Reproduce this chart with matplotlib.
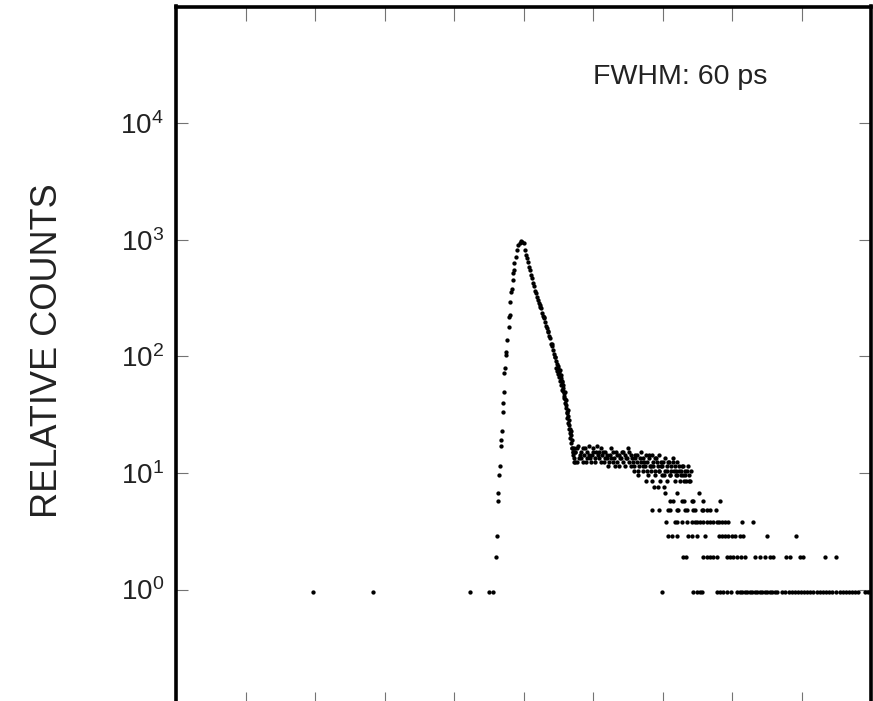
import matplotlib
matplotlib.use('Agg')
import matplotlib.pyplot as plt
import numpy as np
from matplotlib.ticker import FixedLocator, FixedFormatter, NullLocator

plt.rcParams['font.family'] = ['Liberation Sans', 'DejaVu Sans']
plt.rcParams['mathtext.fontset'] = 'custom'
plt.rcParams['mathtext.rm'] = 'Liberation Sans'
plt.rcParams['mathtext.it'] = 'Liberation Sans:italic'
plt.rcParams['mathtext.bf'] = 'Liberation Sans:bold'

# ---------------- data (channels of 1.44 ps, raw counts) ----------------
NORM = 0.953          # relative-count scale factor
N_CHANNELS = 1390
TICK_STEP = 139       # 200 ps

# channels holding a given low count
row1_ch = [274, 394, 588, 626, 634, 972, 1034, 1042, 1048, 1052, 1082, 1088, 1094,
           1102, 1110, 1122, 1127, 1132, 1137, 1142, 1147, 1152, 1157, 1162, 1167,
           1172, 1177, 1182, 1187, 1192, 1197, 1202, 1212, 1218, 1226, 1232, 1238,
           1244, 1250, 1256, 1262, 1268, 1274, 1282, 1288, 1294, 1300, 1306, 1312,
           1320, 1328, 1334, 1340, 1346, 1352, 1358, 1364, 1378, 1384]
row2_ch = [640, 1014, 1020, 1054, 1062, 1068, 1074, 1082, 1102, 1108, 1114, 1122,
           1130, 1138, 1158, 1168, 1178, 1188, 1194, 1220, 1228, 1248, 1254, 1298, 1320]
row3_ch = [642, 984, 992, 1002, 1024, 1032, 1042, 1058, 1086, 1092, 1098, 1104,
           1112, 1118, 1128, 1134, 1182, 1240]
row4_ch = [980, 998, 1002, 1012, 1022, 1032, 1038, 1042, 1048, 1054, 1062, 1068,
           1074, 1082, 1086, 1092, 1098, 1104, 1132, 1154]
row5_ch = [952, 966, 984, 988, 1002, 1004, 1018, 1022, 1034, 1038, 1052, 1054,
           1062, 1068, 1080]
row6_ch = [643, 988, 994, 1012, 1016, 1032, 1034, 1054, 1088]
row7_ch = [644, 978, 1002, 1046]
row8_ch = [956, 964, 976]
row9_ch = [940, 952, 968, 982, 998, 1028]

# rising edge, peak and fast decay
edge_ch = [645, 647, 649, 650, 652, 653, 654, 655, 656, 657, 659, 660, 662, 665,
           666, 667, 668, 670, 671, 673, 674, 675, 676, 679, 681, 684, 687, 689,
           692, 695, 698, 700, 702, 704, 706, 708, 710, 712, 714, 716, 718, 720,
           722, 724, 726, 727, 728, 730, 732, 734, 735, 736, 738, 740, 742, 743,
           744, 746, 748, 750, 751, 752, 754, 756, 757, 758, 760, 762, 763, 764,
           766, 767, 768, 769, 770, 771, 772, 773, 774, 775, 776, 777, 778, 779,
           780, 781, 782, 783, 784, 785, 786, 787, 788, 789, 790, 791, 792, 793,
           794, 795, 796, 798]
edge_counts = [10, 12, 18, 20, 24, 35, 42, 52, 75, 83, 107, 114, 144, 188,
               229, 236, 307, 375, 400, 472, 549, 574, 660, 747, 853, 941, 985, 1019,
               1005, 974, 853, 772, 728, 673, 610, 574, 520, 491, 445, 419, 379, 365,
               337, 318, 299, 290, 277, 272, 246, 232, 226, 222, 206, 190, 183, 174,
               169, 156, 150, 135, 133, 128, 119, 109, 104, 103, 95, 90, 86, 83,
               77, 72, 80, 68, 72, 63, 65, 56, 59, 51, 46, 52, 42, 38,
               44, 34, 31, 36, 28, 25, 30, 23, 21, 24, 19, 17, 20, 16,
               15, 17, 13, 16]
# extra scatter on the lower part of the fast decay
decay2_ch = [760, 762, 764, 766, 768, 770, 772, 774, 776, 778, 780, 782, 784, 786,
             788, 790]
decay2_counts = [84, 78, 74, 70, 64, 60, 54, 53, 48, 45, 40, 35, 32, 27, 25, 22]

# slow-component plateau
plateau_ch = [792, 795, 798, 801, 804, 807, 810, 813, 816, 819, 822, 825, 828, 831,
              834, 837, 840, 843, 846, 849, 852, 855, 858, 861, 864, 867, 870, 873,
              876, 879, 882, 885, 888, 891, 894, 897, 900, 903, 906, 909, 912, 915,
              918, 921, 924, 927, 930, 933, 936, 939, 942, 945, 948, 951, 954, 957,
              960, 963, 966, 969, 972, 975, 978, 981, 984, 987, 990, 993, 996, 999,
              1002, 1005, 1008, 1011, 1014, 1017, 1020, 1023, 1026, 1029]
plateau_counts = [17, 14, 16, 13, 18, 15, 14, 17, 15, 13, 16, 18, 14, 15,
                  17, 13, 16, 15, 14, 17, 15, 13, 16, 14, 12, 15, 17, 13,
                  14, 16, 15, 12, 14, 16, 13, 15, 14, 17, 13, 15, 14, 12,
                  15, 13, 11, 14, 16, 12, 13, 15, 11, 14, 12, 15, 13, 11,
                  14, 12, 15, 13, 12, 10, 14, 11, 13, 10, 12, 14, 11, 10,
                  13, 11, 9, 12, 10, 11, 9, 12, 10, 11]
plateau2_ch = [794, 798, 802, 806, 810, 814, 818, 822, 826, 830, 834, 838, 842, 846,
               850, 854, 858, 862, 866, 870, 874, 878, 882, 886, 890, 894, 898, 902,
               906, 910, 914, 918, 922, 926, 930, 934, 938, 942, 946, 950, 954, 958,
               962, 966, 970, 974, 978, 982, 986, 990, 994, 998, 1002, 1006, 1010,
               1014, 1018, 1022, 1026]
plateau2_counts = [16, 13, 17, 14, 16, 13, 17, 14, 15, 13, 16, 14, 18, 16,
                   13, 16, 14, 15, 13, 14, 16, 12, 13, 15, 14, 16, 12, 14,
                   16, 12, 13, 14, 15, 12, 13, 14, 12, 13, 15, 11, 12, 14,
                   13, 11, 12, 13, 11, 12, 13, 11, 13, 12, 10, 12, 11,
                   12, 10, 11, 9]
lower_ch = [916, 924, 934, 944, 950, 958, 966, 972, 988, 1000, 1010, 1016]
lower_counts = [11, 10, 11, 10, 12, 10, 11, 10, 10, 11, 10, 9]

ytick_vals = [1, 10, 100, 1000, 10000]
ytick_labels = [r'$10^{0}$', r'$10^{1}$', r'$10^{2}$', r'$10^{3}$', r'$10^{4}$']
annotation = 'FWHM: 60 ps'
ylabel = 'RELATIVE COUNTS'

# ---------------- assemble ----------------
rows = [row1_ch, row2_ch, row3_ch, row4_ch, row5_ch, row6_ch, row7_ch, row8_ch, row9_ch]
ch_all, cnt_all = [], []
for k, r in enumerate(rows, start=1):
    ch_all += r
    cnt_all += [k] * len(r)
for c, n in [(edge_ch, edge_counts), (decay2_ch, decay2_counts),
             (plateau_ch, plateau_counts), (plateau2_ch, plateau2_counts),
             (lower_ch, lower_counts)]:
    ch_all += c
    cnt_all += n
ch_all = np.array(ch_all, dtype=float)
rel = np.array(cnt_all, dtype=float) * NORM

# ---------------- figure ----------------
W, H = 873, 701
fig = plt.figure(figsize=(W / 100, H / 100), dpi=100)
left, right = 176.3 / W, 871.0 / W
top, bottom = 1 - 6.5 / H, 1 - 706.1 / H
ax = fig.add_axes([left, bottom, right - left, top - bottom])

ax.plot(ch_all, rel, 'o', ms=3.1, mew=0, color='black')

ax.set_yscale('log')
ax.set_ylim(0.1, 1e5)
ax.set_xlim(0, N_CHANNELS)
ax.xaxis.set_major_locator(FixedLocator([TICK_STEP * k for k in range(1, 10)]))
ax.xaxis.set_minor_locator(NullLocator())
ax.yaxis.set_major_locator(FixedLocator(ytick_vals))
ax.yaxis.set_major_formatter(FixedFormatter(ytick_labels))
ax.yaxis.set_minor_locator(NullLocator())

ax.tick_params(axis='x', which='major', direction='in', top=True, bottom=True,
               length=10, width=0.8, color='0.45', labelbottom=False, labeltop=False)
ax.tick_params(axis='y', which='major', direction='in', left=True, right=True,
               length=8.8, width=0.8, color='0.45', labelsize=20, pad=9,
               labelcolor='#222222')
for s in ax.spines.values():
    s.set_linewidth(2.6)
    s.set_color('black')

fig.text(593 / W, 1 - 84 / H, annotation, fontsize=20.5, ha='left', va='baseline',
         color='#222222')
fig.text(48 / W, 1 - 351 / H, ylabel, fontsize=26, rotation=90, ha='center',
         va='center', color='#222222')

fig.savefig('out.png', dpi=100)
